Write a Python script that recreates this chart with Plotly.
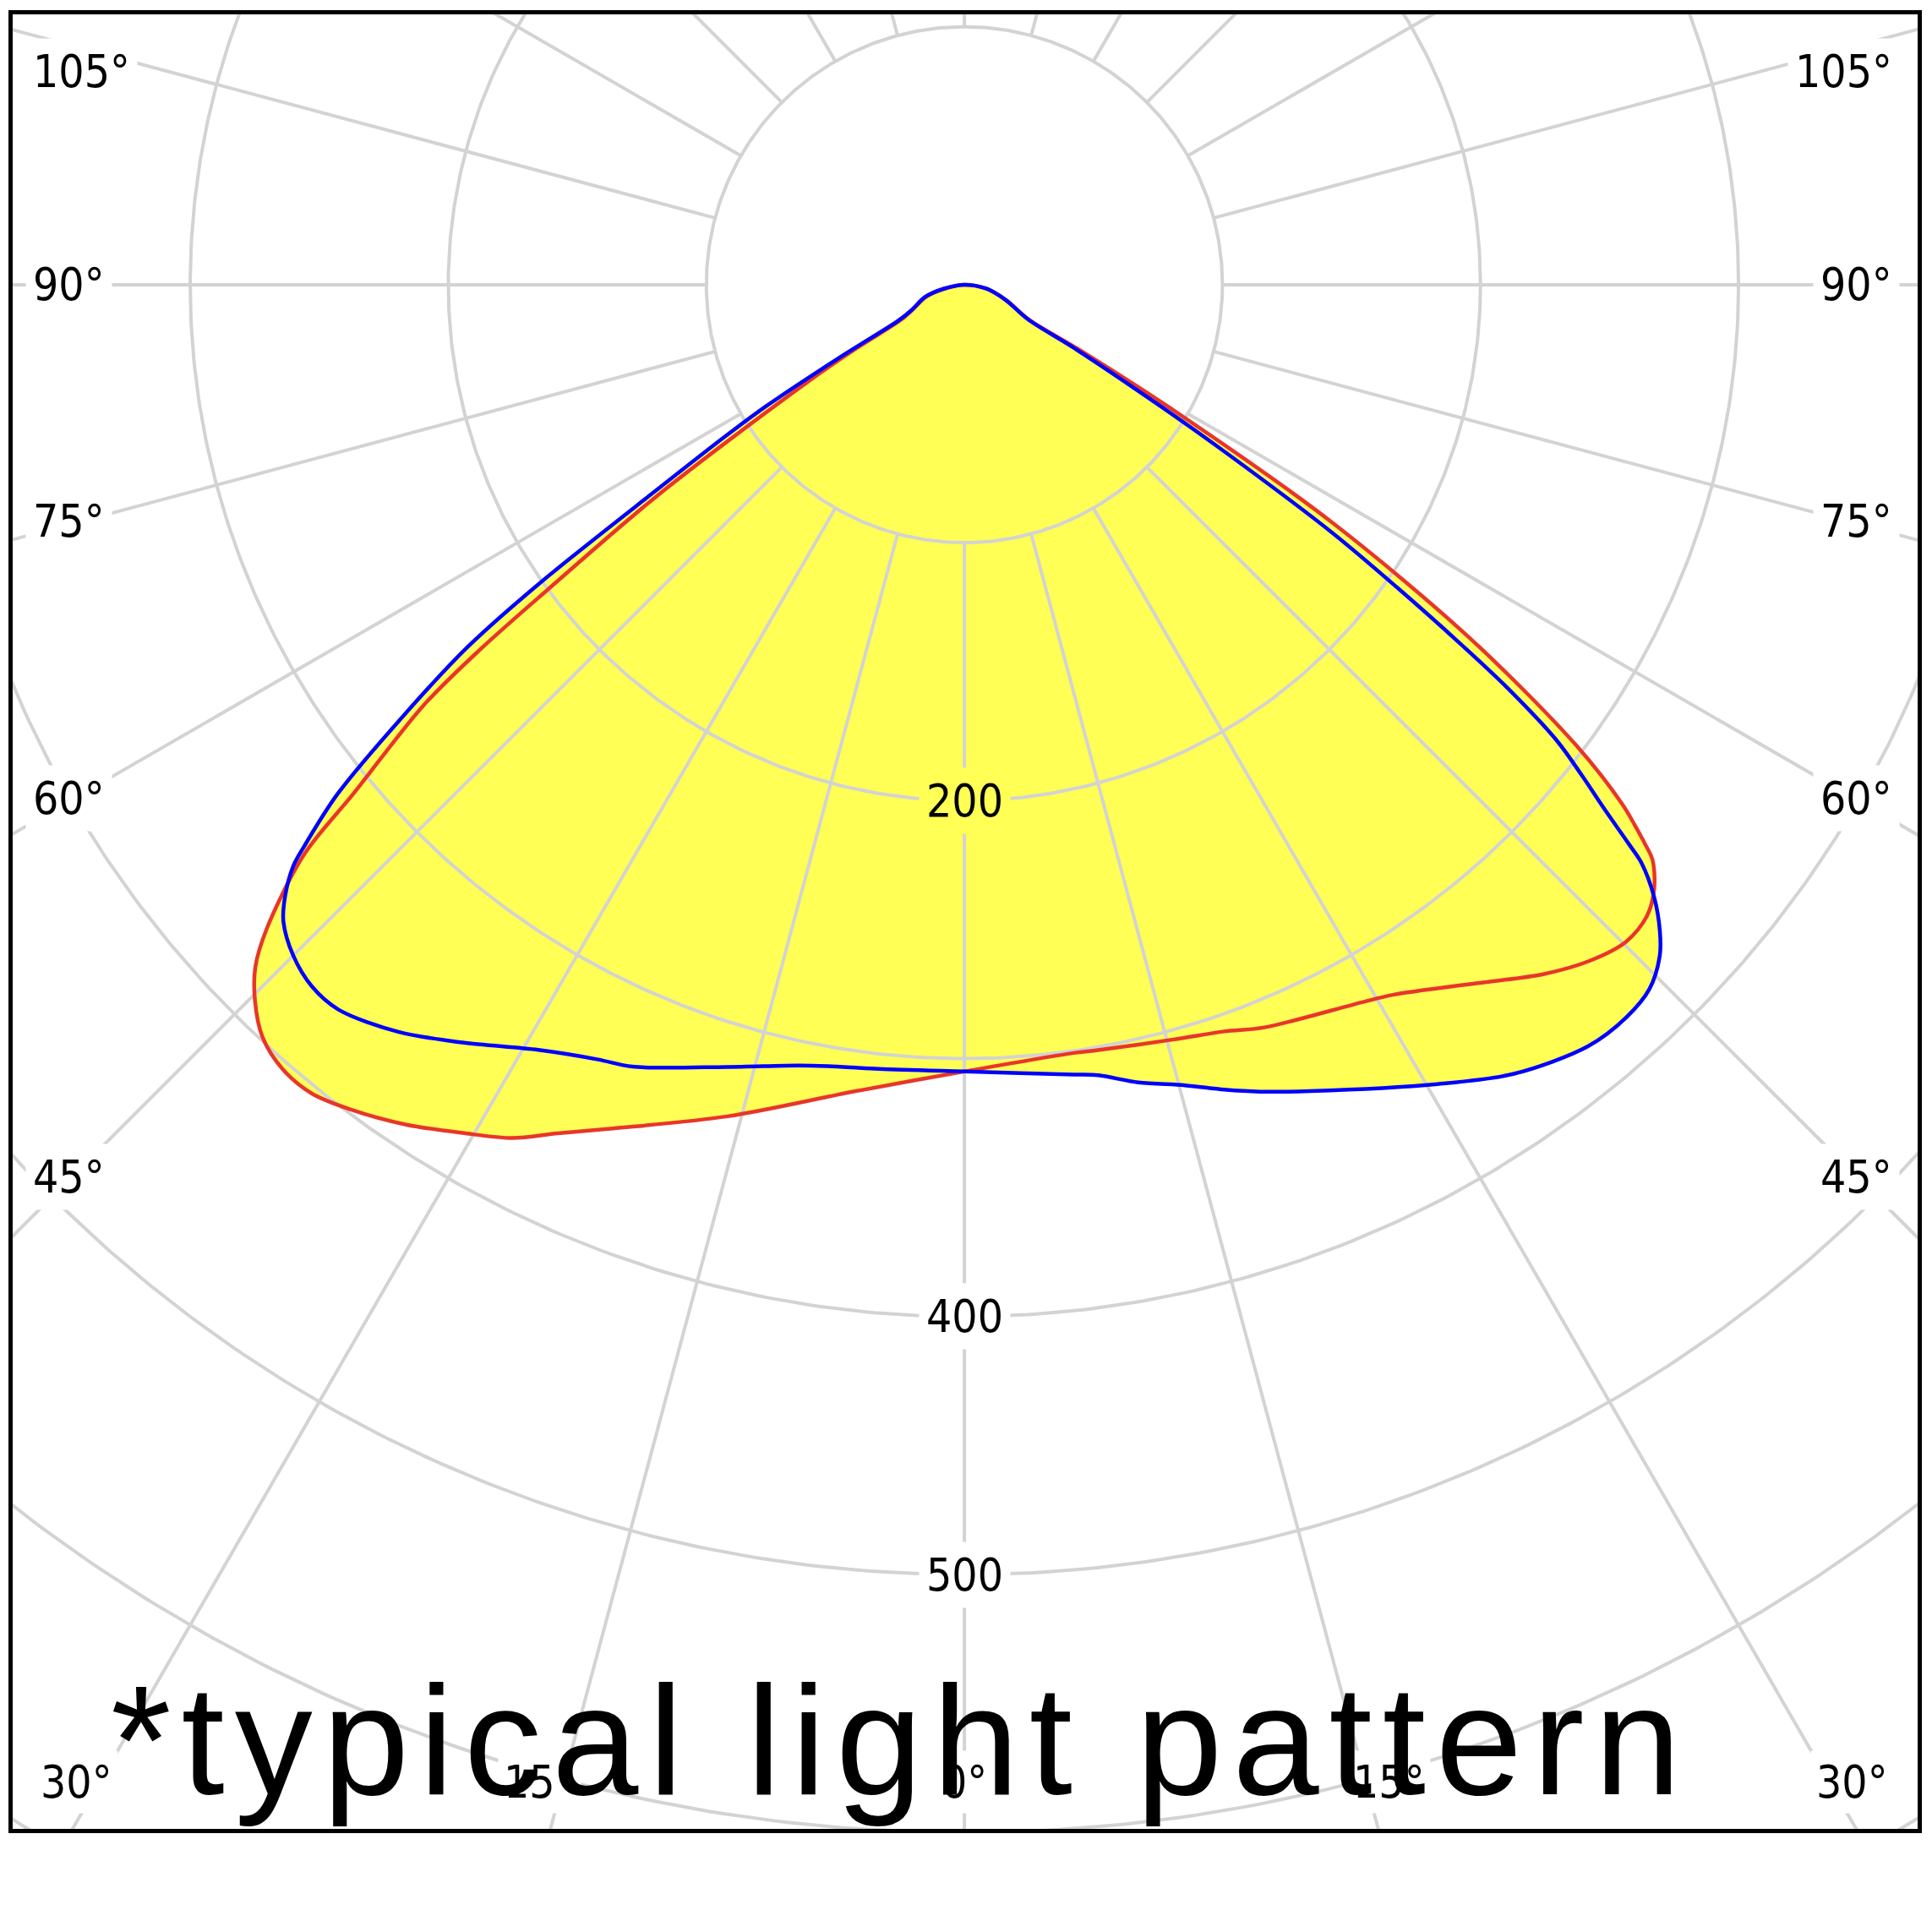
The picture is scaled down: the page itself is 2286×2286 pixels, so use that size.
import numpy as np
import plotly.graph_objects as go

# ---------------- data (luminous intensity, cd, vs. gamma angle in degrees) -------------
# C0-C180 plane (red); negative gamma = left half of the diagram
red_gamma = [-90, -79, -72.6, -64.5, -61, -59.5, -58.1, -55.5, -53.8, -53.0, -52.1, -50.2,
             -49.2, -47.3, -46.1, -44.7, -43.0, -41.0, -38.9, -36.7, -33.6, -30.6, -27.9,
             -25.6, -22.6, -15.9, -9.5, -8.2, 0, 8.1, 9.9, 15.5, 19.2, 22.0, 29.0, 31.1,
             36.2, 40.0, 42.7, 45.2, 47.2, 48.8, 50.1, 50.6, 51.1, 51.7, 53.0, 55.0, 57.1,
             58.9, 60.5, 61.5, 70, 80, 90]
red_cd = [0, 7.5, 15.5, 22, 28, 48, 73, 144.5, 200, 235, 266, 308,
          338, 367.7, 381.3, 390.8, 398.8, 402.8, 402.8, 398.6, 390.9, 382.0, 374.3,
          364.8, 354.3, 335.2, 319.1, 316.4, 305, 300.8, 301.2, 303.6, 306.5, 310.5, 318.0, 321.5,
          335.6, 348.9, 356.8, 361.4, 360.4, 355.3, 347.6, 341.2, 334, 324.8, 297.2, 240, 170,
          98, 50, 29, 17, 8.6, 0]

# C90-C270 plane (blue)
blue_gamma = [-90, -79.1, -72.6, -64.5, -61.5, -59.8, -58.5, -57.6, -56.3, -54.9, -53.9, -52.5,
              -50.9, -49.6, -49.1, -48.0, -46.9, -45.0, -42.9, -40.8, -37.1, -33.5, -29.1, -25.3,
              -23.0, -16.9, -12.0, -9.9, -6.2, 0, 7.9, 9.6, 12.3, 15.4, 17.9, 20.1, 23.2, 30.6,
              34.8, 39.3, 42.1, 44.2, 46.0, 47.1, 48.4, 49.5, 49.9, 50.7, 51.5, 52.4, 53.4, 54.1,
              55.0, 56.0, 57.3, 58.2, 60, 61.4, 69.8, 80, 90]
blue_cd = [0, 8, 16, 22.5, 29, 55, 90, 110, 143, 201, 238, 273,
           313, 336, 344, 354.2, 361.4, 367.8, 371.4, 371.2, 363.2, 352.3, 339.5, 332.2,
           329.3, 316.9, 309.4, 307.5, 305.8, 305, 309.1, 310.8, 316.5, 321.9, 327.9, 333.1, 340.1, 360.0,
           372.6, 381.5, 382.7, 380.8, 374.6, 367.9, 357.4, 345.0, 336.7, 320, 306, 290, 262, 237,
           205, 172, 120, 90, 49, 28, 17, 8.6, 0]

ring_values = [100, 200, 300, 400, 500, 600, 700]
ring_labels = ["200", "400", "500"]
spoke_angles = list(range(0, 360, 15))
side_label_angles = [105, 90, 75, 60, 45]
bottom_label_angles = [-30, -15, 0, 15, 30]
note_text = "*typical light pattern"

# ---------------- styling / layout constants ----------------
X_RANGE = [-368.8, 369.4]
Y_RANGE = [-598.6, 104.8]
YELLOW = "#FFFF55"
GRID = "#D3D3D3"
RED = "#E8362A"
BLUE = "#0000FF"
LABEL_FONT = dict(family="DejaVu Sans Condensed, Liberation Sans, sans-serif", size=53, color="black")


def to_xy(gamma, cd):
    g = np.radians(np.asarray(gamma, dtype=float))
    r = np.asarray(cd, dtype=float)
    return r * np.sin(g), -r * np.cos(g)


rx, ry = to_xy(red_gamma, red_cd)
bx, by = to_xy(blue_gamma, blue_cd)

# grid: rings + spokes (spokes start on the innermost ring)
gx, gy = [], []
t = np.linspace(0, 2 * np.pi, 721)
for rv in ring_values:
    gx += list(rv * np.cos(t)) + [None]
    gy += list(rv * np.sin(t)) + [None]
r_in, r_out = ring_values[0], 1000
for a in spoke_angles:
    ar = np.radians(a)
    gx += [r_in * np.sin(ar), r_out * np.sin(ar), None]
    gy += [-r_in * np.cos(ar), -r_out * np.cos(ar), None]

fig = go.Figure()
spl = dict(shape="spline", smoothing=0.9)
fig.add_trace(go.Scatter(x=rx, y=ry, mode="lines", fill="toself", fillcolor=YELLOW,
                         line=dict(width=0, color=YELLOW, **spl), hoverinfo="skip"))
fig.add_trace(go.Scatter(x=bx, y=by, mode="lines", fill="toself", fillcolor=YELLOW,
                         line=dict(width=0, color=YELLOW, **spl), hoverinfo="skip"))
fig.add_trace(go.Scatter(x=gx, y=gy, mode="lines", line=dict(color=GRID, width=4),
                         hoverinfo="skip", connectgaps=False))
fig.add_trace(go.Scatter(x=rx, y=ry, mode="lines", line=dict(color=RED, width=4.5, **spl),
                         hoverinfo="skip"))
fig.add_trace(go.Scatter(x=bx, y=by, mode="lines", line=dict(color=BLUE, width=4.5, **spl),
                         hoverinfo="skip"))

annotations = []

# ring labels on the vertical axis
for lab in ring_labels:
    v = float(lab)
    annotations.append(dict(x=0, y=-v, xref="x", yref="y", text=lab, showarrow=False,
                            font=LABEL_FONT, bgcolor=YELLOW if v < 300 else "white",
                            borderpad=8, xanchor="center", yanchor="middle"))

# side angle labels (placed on their spoke, near the frame)
D = 347.3
y_max = 82.6
for a in side_label_angles:
    yv = -D / np.tan(np.radians(a)) if a != 90 else 0.0
    if a != 90:
        yv += 1.5
    yv = min(yv, y_max)
    annotations.append(dict(x=-364.0, y=yv, xref="x", yref="y", text=f"{a}°", showarrow=False,
                            font=LABEL_FONT, bgcolor="white", borderpad=8,
                            xanchor="left", yanchor="middle"))
    annotations.append(dict(x=362.6, y=yv, xref="x", yref="y", text=f"{a}°", showarrow=False,
                            font=LABEL_FONT, bgcolor="white", borderpad=8,
                            xanchor="right", yanchor="middle"))

# bottom angle labels
yb = -580.3
for a in bottom_label_angles:
    xv = -yb * np.tan(np.radians(a))
    xv += 9 * np.sign(a)
    annotations.append(dict(x=xv, y=yb, xref="x", yref="y", text=f"{abs(a)}°", showarrow=False,
                            font=LABEL_FONT, bgcolor="white", borderpad=6,
                            xanchor="center", yanchor="middle"))

# big note text, drawn on top of everything
annotations.append(dict(
    x=-331.5, y=Y_RANGE[0], xref="x", yref="y", xanchor="left", yanchor="bottom",
    text='<span style="letter-spacing:12px">' + note_text + '</span>', showarrow=False,
    font=dict(family="Liberation Sans, Arial, sans-serif", size=184, color="black")))

fig.update_layout(
    width=2286, height=2286,
    margin=dict(l=15, r=16, t=15, b=122, pad=0),
    paper_bgcolor="white", plot_bgcolor="white",
    showlegend=False,
    annotations=annotations,
    xaxis=dict(range=X_RANGE, showgrid=False, zeroline=False, showticklabels=False, ticks="",
               showline=True, mirror=True, linecolor="black", linewidth=5, fixedrange=True),
    yaxis=dict(range=Y_RANGE, showgrid=False, zeroline=False, showticklabels=False, ticks="",
               showline=True, mirror=True, linecolor="black", linewidth=5, fixedrange=True),
)

fig.write_html("out.html", config={"displayModeBar": False},
               post_script="document.body.style.margin='0';document.body.style.overflow='hidden';")
